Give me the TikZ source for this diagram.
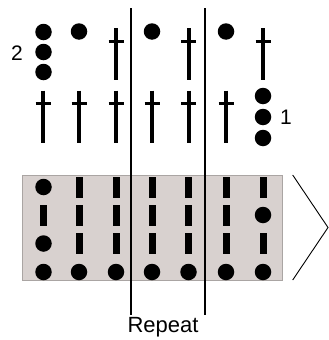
\documentclass[tikz,border=0pt]{standalone}
\usepackage{fontspec}
\setmainfont{Liberation Sans}
\definecolor{swatch}{RGB}{216,209,207}
\definecolor{swatchedge}{RGB}{170,165,163}
\tikzset{
  bead/.style={circle,fill=black,draw=none,minimum size=16.5pt,inner sep=0pt},
  bar/.style={rectangle,fill=black,draw=none,minimum width=7pt,minimum height=21pt,inner sep=0pt},
  lbl/.style={font=\fontsize{21}{25}\selectfont,inner sep=0pt},
  repline/.style={line width=1.1pt,black},
  tallcross/.pic={
    \draw[line width=4pt] (0,-26) -- (0,26);
    \draw[line width=3pt] (-7.5,-13) -- (7.5,-13);
  }
}
\begin{document}
\begin{tikzpicture}[x=1pt,y=-1pt]
\useasboundingbox (0,0) rectangle (329,340);
% swatch
\node[draw=swatchedge,fill=swatch,line width=0.8pt,minimum width=260pt,minimum height=105.5pt,inner sep=0pt] (sw) at (152.7,228) {};
% chevron
\coordinate (c1) at (292.7,175);
\coordinate (c2) at (328,227.5);
\coordinate (c3) at (292.7,280);
\draw[line width=0.9pt] (c1) -- (c2) -- (c3);
% top row: dots and crosses
\node[bead] (t1a) at (43.5,32) {};
\node[bead] (t1b) at (43.5,52) {};
\node[bead] (t1c) at (43.5,72) {};
\node[bead] (t2) at (79,31.5) {};
\pic at (116,54) {tallcross};
\node[bead] (t4) at (152,31.5) {};
\pic at (188.5,54) {tallcross};
\node[bead] (t6) at (226,31.5) {};
\pic at (263,54) {tallcross};
% second row
\foreach \x in {43,79,116,152,188.5,226}{\pic at (\x,116.5) {tallcross};}
\node[bead] (s7a) at (263,96) {};
\node[bead] (s7b) at (263,117) {};
\node[bead] (s7c) at (263,138) {};
% labels
\node[lbl] (two) at (17,53) {2};
\node[lbl] (one) at (286,117.5) {1};
% swatch grid
\node[bead] (a1) at (43.5,187) {};
\foreach \x [count=\i from 2] in {79,116,152,188.5,226,263}{\node[bar] (a\i) at (\x,187) {};}
\foreach \x [count=\i] in {43.5,79,116,152,188.5,226}{\node[bar] (b\i) at (\x,215) {};}
\node[bead] (b7) at (263,215) {};
\node[bead] (c1n) at (43.5,243.5) {};
\foreach \x [count=\i from 2] in {79,116,152,188.5,226,263}{\node[bar] (cc\i) at (\x,243.5) {};}
\foreach \x [count=\i] in {43.5,79,116,152,188.5,226,263}{\node[bead] (d\i) at (\x,272) {};}
% repeat lines
\coordinate (r1t) at (131,8);
\coordinate (r1b) at (131,315);
\coordinate (r2t) at (205,8);
\coordinate (r2b) at (205,315);
\draw[repline] (r1t) -- (r1b);
\draw[repline] (r2t) -- (r2b);
\node[font=\fontsize{22}{26}\selectfont,inner sep=0pt] (rep) at (163,327) {Repeat};
\end{tikzpicture}
\end{document}
